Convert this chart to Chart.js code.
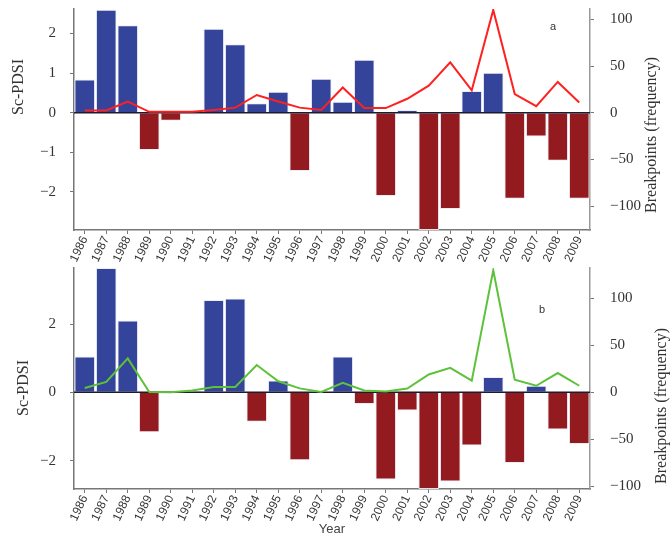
<!DOCTYPE html>
<html>
<head>
<meta charset="utf-8">
<script src="https://cdn.jsdelivr.net/npm/chart.js@4.4.0/dist/chart.umd.min.js"></script>
<style>
  html, body { margin: 0; padding: 0; background: #fff; }
  #wrap { position: relative; width: 671px; height: 537px; overflow: hidden; }
  canvas { position: absolute; left: 0; }
</style>
</head>
<body>
<div id="wrap">
  <canvas id="panelA" width="671" height="262" style="top:0"></canvas>
  <canvas id="panelB" width="671" height="275" style="top:262px"></canvas>
</div>
<script>
// Years on the category axis
const years = ['1986','1987','1988','1989','1990','1991','1992','1993','1994','1995','1996','1997',
               '1998','1999','2000','2001','2002','2003','2004','2005','2006','2007','2008','2009'];

// Panel a: Sc-PDSI anomalies and breakpoint frequency
const pdsiA   = [0.84, 2.6, 2.21, -0.94, -0.2, 0, 2.12, 1.73, 0.24, 0.53, -1.47, 0.86,
                 0.28, 1.34, -2.1, 0.07, -2.96, -2.43, 0.55, 1.01, -2.17, -0.6, -1.21, -2.17];
const breaksA = [2.5, 2.5, 12, 1, 1, 1, 3, 5.5, 19, 12, 5.5, 3,
                 27, 5, 5, 15, 29, 54, 24, 110, 20, 7, 33, 11];

// Panel b: Sc-PDSI anomalies and breakpoint frequency
const pdsiB   = [1.05, 3.64, 2.1, -1.17, 0, 0.03, 2.7, 2.75, -0.86, 0.35, -1.99, 0,
                 1.05, -0.34, -2.55, -0.53, -2.83, -2.61, -1.56, 0.45, -2.07, 0.19, -1.09, -1.51];
const breaksB = [4.6, 11, 36, 0.4, 0, 2, 5.7, 5.7, 29, 11.7, 4.2, 0.4,
                 10, 2, 1, 4, 19, 26, 12.4, 129.5, 13.4, 7, 20.5, 7];

// Tick labels
const pdsiTicksA  = [-2, -1, 0, 1, 2];
const pdsiTicksB  = [-2, 0, 2];
const breakTicks  = [-100, -50, 0, 50, 100];

// Axis limits (left axis range; right max, right min follows so both zeros line up)
const rangeA = { lmin: -2.96, lmax: 2.62, rmax: 111 };
const rangeB = { lmin: -2.83, lmax: 3.64, rmax: 132 };

const BLUE = '#33449a';
const RED_BAR = '#931b1f';
const SERIF = "'Liberation Serif', 'Times New Roman', serif";
const SANS = "'Liberation Sans', Arial, sans-serif";

// Zero reference line drawn right after the bars, beneath the frequency line
const zeroLine = {
  id: 'zeroLine',
  afterDatasetDraw(chart, args) {
    if (args.meta.type !== 'bar') return;
    const y = chart.scales.yL.getPixelForValue(0);
    const ctx = chart.ctx, a = chart.chartArea;
    ctx.save();
    ctx.strokeStyle = '#1c1c30';
    ctx.lineWidth = 1.5;
    ctx.beginPath();
    ctx.moveTo(a.left, y);
    ctx.lineTo(a.right, y);
    ctx.stroke();
    ctx.restore();
  }
};

// Axis titles and the panel letter
const annotations = {
  id: 'annotations',
  afterDraw(chart, args, opts) {
    const ctx = chart.ctx;
    ctx.save();
    ctx.fillStyle = '#333';
    ctx.textAlign = 'center';
    ctx.textBaseline = 'middle';
    ctx.font = '16px ' + SERIF;
    ctx.save();
    ctx.translate(opts.left[0], opts.left[1]);
    ctx.rotate(-Math.PI / 2);
    ctx.fillText('Sc-PDSI', 0, 0);
    ctx.restore();
    ctx.save();
    ctx.translate(opts.right[0], opts.right[1]);
    ctx.rotate(-Math.PI / 2);
    ctx.fillText('Breakpoints (frequency)', 0, 0);
    ctx.restore();
    ctx.font = '11px ' + SANS;
    ctx.fillText(opts.letter, opts.letterPos[0], opts.letterPos[1]);
    ctx.restore();
  }
};

// Fixed vertical-axis width with no extra padding above/below the plot
const fixWidth = w => s => { s.width = w; s.paddingTop = 0; s.paddingBottom = 0; };

function makePanel(id, pdsi, breaks, lineColor, range, leftTicks, opts) {
  const f = -range.lmin / (range.lmax - range.lmin);
  const rmin = -f * range.rmax / (1 - f);
  return new Chart(document.getElementById(id), {
    data: {
      labels: years,
      datasets: [
        {
          type: 'line',
          data: breaks,
          yAxisID: 'yR',
          borderColor: lineColor,
          borderWidth: 2,
          pointRadius: 0,
          tension: 0,
          fill: false,
          order: 0
        },
        {
          type: 'bar',
          data: pdsi,
          yAxisID: 'yL',
          backgroundColor: c => (c.raw >= 0 ? BLUE : RED_BAR),
          borderColor: 'rgba(235,235,245,0.9)',
          borderWidth: 1,
          borderSkipped: 'start',
          barPercentage: 0.96,
          categoryPercentage: 1,
          order: 1
        }
      ]
    },
    options: {
      responsive: false,
      animation: false,
      layout: { padding: { top: opts.padTop, left: 0, right: 0, bottom: 0 } },
      plugins: {
        legend: { display: false },
        tooltip: { enabled: false },
        annotations: opts.ann
      },
      scales: {
        x: {
          type: 'category',
          offset: true,
          grid: { display: true, drawOnChartArea: false, offset: false, tickLength: 4, color: '#777' },
          border: { color: '#777', width: 1.5 },
          ticks: {
            autoSkip: false, minRotation: 65, maxRotation: 65,
            font: { family: SANS, size: 12 }, color: '#333', padding: 0
          },
          title: {
            display: !!opts.xTitle, text: opts.xTitle || '',
            font: { family: SANS, size: 13 }, color: '#444', padding: { top: 0, bottom: 0 }
          },
          afterFit: s => { s.height = opts.xHeight; s.paddingLeft = 0; s.paddingRight = 0; }
        },
        yL: {
          type: 'linear',
          position: 'left',
          min: range.lmin,
          max: range.lmax,
          afterBuildTicks: s => { s.ticks = leftTicks.map(v => ({ value: v })); },
          grid: { drawOnChartArea: false, tickLength: 4, color: '#777' },
          border: { color: '#777', width: 1.5 },
          ticks: {
            font: { family: SERIF, size: 15 }, color: '#333', padding: 14,
            callback: v => (v < 0 ? '\u2212' + Math.abs(v) : String(v))
          },
          afterFit: fixWidth(74)
        },
        yR: {
          type: 'linear',
          position: 'right',
          min: rmin,
          max: range.rmax,
          afterBuildTicks: s => { s.ticks = breakTicks.map(v => ({ value: v })); },
          grid: { drawOnChartArea: false, tickLength: 4, color: '#777' },
          border: { color: '#999', width: 1.5 },
          ticks: {
            font: { family: SERIF, size: 15 }, color: '#333', padding: 16,
            callback: v => (v < 0 ? '\u2212' + Math.abs(v) : String(v))
          },
          afterFit: fixWidth(81)
        }
      }
    },
    plugins: [zeroLine, annotations]
  });
}

makePanel('panelA', pdsiA, breaksA, '#ff2020', rangeA, pdsiTicksA, {
  padTop: 9, xHeight: 32,
  ann: { left: [19, 87], right: [652, 135], letter: 'a', letterPos: [553, 27] }
});

makePanel('panelB', pdsiB, breaksB, '#5dc23a', rangeB, pdsiTicksB, {
  padTop: 6, xHeight: 48, xTitle: 'Year',
  ann: { left: [24, 126], right: [662, 144], letter: 'b', letterPos: [542, 48] }
});
</script>
</body>
</html>
